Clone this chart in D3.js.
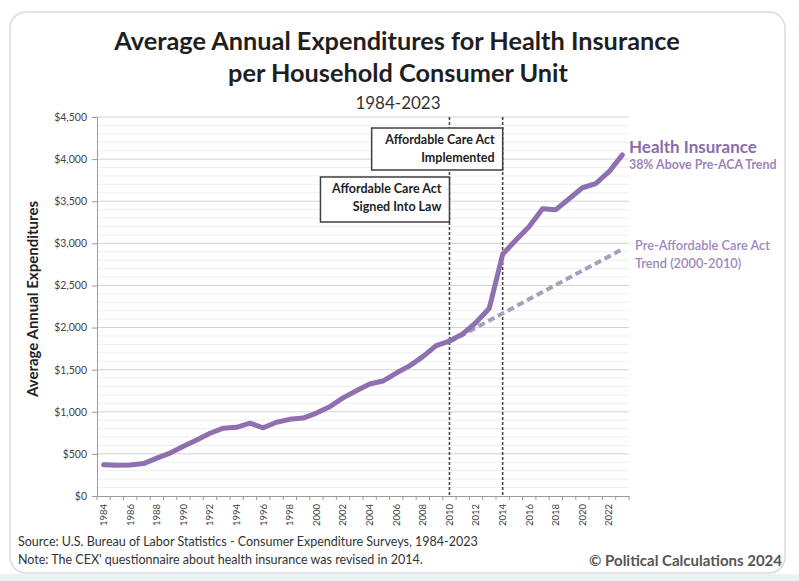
<!DOCTYPE html>
<html>
<head>
<meta charset="utf-8">
<script src="https://cdn.jsdelivr.net/npm/d3@7"></script>
<style>
  html, body { margin: 0; padding: 0; background: #ffffff; }
  svg { display: block; font-family: Lato, "Open Sans", sans-serif; }
</style>
</head>
<body>
<svg id="chart" width="799" height="581"></svg>
<script>
// ---- data ----
const years = d3.range(1984, 2024);
const healthInsurance = [
  370, 365, 368, 385, 450, 510, 590, 665, 745, 805,
  815, 865, 810, 875, 910, 925, 985, 1060, 1165, 1250,
  1330, 1365, 1460, 1545, 1655, 1785, 1840, 1925, 2060, 2230,
  2870, 3040, 3200, 3410, 3400, 3530, 3660, 3710, 3850, 4050
];
const trendYears = [2010, 2023];
const trendValues = [1830, 2930];
const yTicks = [0, 500, 1000, 1500, 2000, 2500, 3000, 3500, 4000, 4500];
const xLabelYears = d3.range(1984, 2024, 2);
const eventYears = [2010, 2014];

// ---- layout ----
const svg = d3.select("#chart");
const plot = { left: 97, right: 629, top: 117, bottom: 496 };

const x = d3.scaleBand().domain(years).range([plot.left, plot.right]).padding(0);
const y = d3.scaleLinear().domain([0, 4500]).range([plot.bottom, plot.top]);
const cx = yr => x(yr) + x.bandwidth() / 2;

// card
svg.append("rect").attr("x", 0).attr("y", 574).attr("width", 799).attr("height", 7).attr("fill", "#eef1f4");
svg.append("rect")
  .attr("x", 10).attr("y", 12).attr("width", 775).attr("height", 561)
  .attr("rx", 16).attr("fill", "#ffffff")
  .attr("stroke", "#d3dbe3").attr("stroke-width", 1.5);

// titles
svg.append("text").attr("x", 397).attr("y", 50).attr("text-anchor", "middle")
  .attr("font-size", 25.3).attr("font-weight", 700).attr("fill", "#1f1f1f")
  .text("Average Annual Expenditures for Health Insurance");
svg.append("text").attr("x", 398).attr("y", 82).attr("text-anchor", "middle")
  .attr("font-size", 25.3).attr("font-weight", 700).attr("fill", "#1f1f1f")
  .text("per Household Consumer Unit");
svg.append("text").attr("x", 398).attr("y", 109).attr("text-anchor", "middle")
  .attr("font-size", 17).attr("fill", "#333")
  .text("1984-2023");

// minor gridlines
const minor = d3.range(100, 4500, 100).filter(v => v % 500 !== 0);
svg.append("g").selectAll("line").data(minor).join("line")
  .attr("x1", plot.left).attr("x2", plot.right)
  .attr("y1", d => y(d)).attr("y2", d => y(d))
  .attr("stroke", "#eeeeee").attr("stroke-width", 1);

// major gridlines
svg.append("g").selectAll("line").data(yTicks.filter(v => v > 0)).join("line")
  .attr("x1", plot.left).attr("x2", plot.right)
  .attr("y1", d => y(d)).attr("y2", d => y(d))
  .attr("stroke", "#d2d2d2").attr("stroke-width", 1);

// y axis
const yAxis = d3.axisLeft(y).tickValues(yTicks).tickSize(5).tickPadding(5)
  .tickFormat(d => "$" + d3.format(",")(d));
const gy = svg.append("g").attr("transform", `translate(${plot.left},0)`).call(yAxis);
gy.select(".domain").attr("stroke", "#9a9a9a");
gy.selectAll(".tick line").attr("stroke", "#9a9a9a");
gy.selectAll(".tick text").attr("font-size", 10.5).attr("fill", "#444")
  .attr("font-family", "Lato, sans-serif");

// x axis
const xAxis = d3.axisBottom(x).tickValues(xLabelYears).tickSize(0).tickPadding(0);
const gx = svg.append("g").attr("transform", `translate(0,${plot.bottom})`).call(xAxis);
gx.select(".domain").attr("stroke", "#9a9a9a");
gx.selectAll(".tick text")
  .attr("font-size", 9.5).attr("fill", "#444").attr("font-family", "Lato, sans-serif")
  .attr("transform", "rotate(-90)")
  .attr("text-anchor", "end")
  .attr("x", -8).attr("y", 0).attr("dy", "0.35em");
// band boundary ticks
svg.append("g").selectAll("line").data(years.concat([2024])).join("line")
  .attr("x1", d => d === 2024 ? plot.right : x(d))
  .attr("x2", d => d === 2024 ? plot.right : x(d))
  .attr("y1", plot.bottom).attr("y2", plot.bottom + 4)
  .attr("stroke", "#9a9a9a").attr("stroke-width", 1);

// y axis title
svg.append("text")
  .attr("transform", "translate(38,299) rotate(-90)")
  .attr("text-anchor", "middle").attr("font-size", 15).attr("font-weight", 700)
  .attr("fill", "#222").text("Average Annual Expenditures");

// event dashed lines
svg.append("g").selectAll("line").data(eventYears).join("line")
  .attr("x1", d => cx(d)).attr("x2", d => cx(d))
  .attr("y1", plot.top).attr("y2", plot.bottom)
  .attr("stroke", "#4a4a4a").attr("stroke-width", 1.6).attr("stroke-dasharray", "3,2");

// annotation boxes
function box(rightYear, top, height, width, lines) {
  const r = cx(rightYear);
  svg.append("rect").attr("x", r - width).attr("y", top).attr("width", width).attr("height", height)
    .attr("fill", "#ffffff").attr("stroke", "#3f3f3f").attr("stroke-width", 1.5);
  lines.forEach((t, i) => {
    svg.append("text").attr("x", r - 8).attr("y", top + 16 + i * 18)
      .attr("text-anchor", "end").attr("font-size", 12.5).attr("font-weight", 700)
      .attr("fill", "#222").text(t);
  });
}
box(2014, 128, 42, 131, ["Affordable Care Act", "Implemented"]);
box(2010, 177, 45, 129, ["Affordable Care Act", "Signed Into Law"]);

// trend line (dashed)
const trendData = trendYears.map((yr, i) => ({ yr, v: trendValues[i] }));
svg.append("path").datum(trendData)
  .attr("d", d3.line().x(d => cx(d.yr)).y(d => y(d.v)))
  .attr("fill", "none").attr("stroke", "#a99ebb").attr("stroke-width", 4)
  .attr("stroke-dasharray", "7,4");

// main series
const series = years.map((yr, i) => ({ yr, v: healthInsurance[i] }));
svg.append("path").datum(series)
  .attr("d", d3.line().x(d => cx(d.yr)).y(d => y(d.v)))
  .attr("fill", "none").attr("stroke", "#8e70b1").attr("stroke-width", 5)
  .attr("stroke-linejoin", "round").attr("stroke-linecap", "round");

// right labels
svg.append("text").attr("x", 629).attr("y", 153).attr("font-size", 17).attr("font-weight", 700)
  .attr("fill", "#8a6dab").text("Health Insurance");
svg.append("text").attr("x", 629).attr("y", 169).attr("font-size", 12.4).attr("font-weight", 700)
  .attr("fill", "#9a84b6").text("38% Above Pre-ACA Trend");
svg.append("text").attr("x", 635).attr("y", 250).attr("font-size", 12.8).attr("font-weight", 600)
  .attr("fill", "#9d89ba").text("Pre-Affordable Care Act");
svg.append("text").attr("x", 635).attr("y", 268).attr("font-size", 12.8).attr("font-weight", 600)
  .attr("fill", "#9d89ba").text("Trend (2000-2010)");

// footer
svg.append("text").attr("x", 18).attr("y", 546).attr("font-size", 12.5).attr("fill", "#333")
  .text("Source: U.S. Bureau of Labor Statistics - Consumer Expenditure Surveys, 1984-2023");
svg.append("text").attr("x", 18).attr("y", 564).attr("font-size", 12.5).attr("fill", "#333")
  .text("Note: The CEX' questionnaire about health insurance was revised in 2014.");
svg.append("text").attr("x", 782).attr("y", 566).attr("text-anchor", "end")
  .attr("font-size", 15).attr("font-weight", 700).attr("fill", "#555")
  .text("© Political Calculations 2024");
</script>
</body>
</html>
